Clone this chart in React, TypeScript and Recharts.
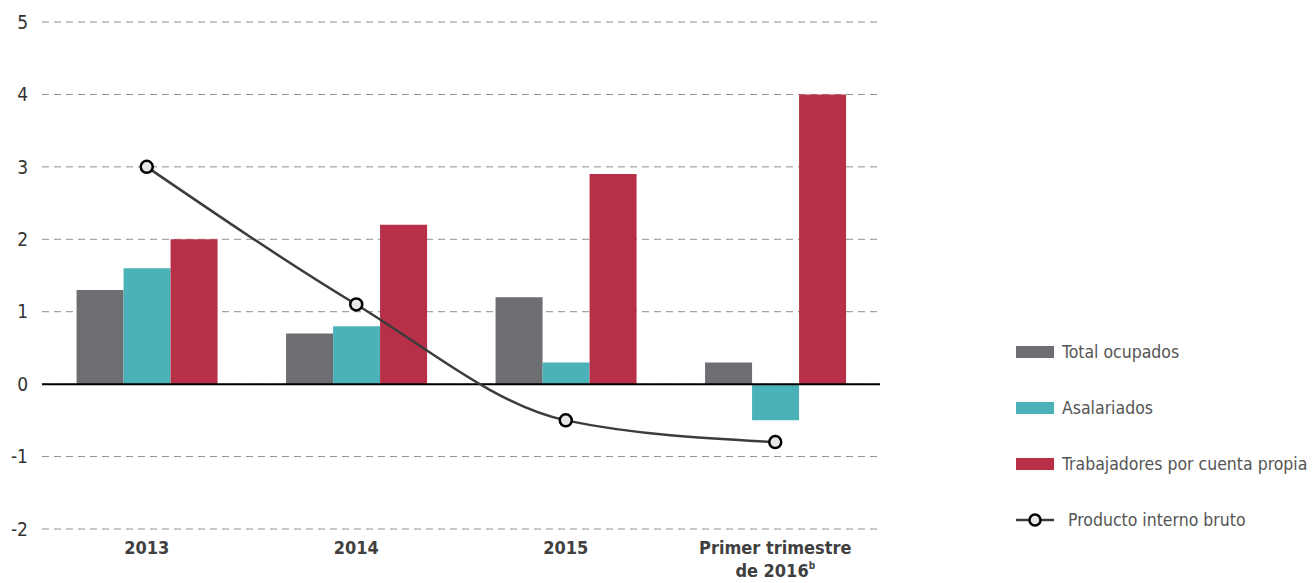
import * as React from 'react';
import { Bar, CartesianGrid, ComposedChart, Line, ReferenceLine, XAxis, YAxis } from "recharts"

const categories = ["2013", "2014", "2015", "Primer trimestre|de 2016"]
const totalOcupados = [1.3, 0.7, 1.2, 0.3]
const asalariados = [1.6, 0.8, 0.3, -0.5]
const cuentaPropia = [2.0, 2.2, 2.9, 4.0]
const pib = [3.0, 1.1, -0.5, -0.8]
const yTicks = [-2, -1, 0, 1, 2, 3, 4, 5]

const FONT = "'Liberation Sans Narrow', 'DejaVu Sans Condensed', 'Roboto', sans-serif"
const GRAY = "#6d6e72"
const TEAL = "#4bb2b9"
const RED = "#b73047"

const data = categories.map((name, i) => ({
  name,
  total: totalOcupados[i],
  asal: asalariados[i],
  propia: cuentaPropia[i],
  pib: pib[i],
}))

const legendItems = [
  { label: "Total ocupados", color: GRAY, kind: "bar" },
  { label: "Asalariados", color: TEAL, kind: "bar" },
  { label: "Trabajadores por cuenta propia", color: RED, kind: "bar" },
  { label: "Producto interno bruto", color: "#3c3c3c", kind: "line" },
]

function CategoryTick(props: any) {
  const { x, y, payload } = props
  const lines = String(payload.value).split("|")
  return (
    <text x={x} y={y} textAnchor="middle" fontFamily={FONT} fontWeight="bold" fontSize={18} fill="#404040">
      {lines.map((l, i) => (
        <tspan key={i} x={x} dy={i === 0 ? 17 : 23}>
          {l}
          {i === 1 && <tspan fontSize={10} dy={-8}>b</tspan>}
        </tspan>
      ))}
    </text>
  )
}

function Legend() {
  return (
    <div style={{ position: "absolute", left: 1016, top: 324, fontFamily: FONT, fontSize: 17.5, color: "#555", whiteSpace: "nowrap" }}>
      {legendItems.map((item) => (
        <div key={item.label} style={{ display: "flex", alignItems: "center", height: 56 }}>
          {item.kind === "bar" ? (
            <div style={{ width: 38, height: 12, background: item.color, marginRight: 8 }} />
          ) : (
            <svg width={38} height={16} style={{ marginRight: 14 }}>
              <line x1={0} y1={8} x2={38} y2={8} stroke={item.color} strokeWidth={2.5} />
              <circle cx={19} cy={8} r={5.5} fill="#e8e8ea" stroke="#000" strokeWidth={2.5} />
            </svg>
          )}
          <span>{item.label}</span>
        </div>
      ))}
    </div>
  )
}

export default function App() {
  return (
    <div style={{ position: "absolute", left: 0, top: 0, width: 1312, height: 583, background: "#fff" }}>
      <ComposedChart
        width={1312}
        height={583}
        data={data}
        margin={{ top: 22, right: 432, left: 0, bottom: 0 }}
        barGap={0}
        barCategoryGap="16.5%"
      >
        <CartesianGrid vertical={false} stroke="#8f8f8f" strokeDasharray="7 5" />
        <XAxis dataKey="name" height={54} axisLine={false} tickLine={false} tick={<CategoryTick />} interval={0} />
        <YAxis
          width={42}
          domain={[-2, 5]}
          ticks={yTicks}
          axisLine={false}
          tickLine={false}
          tickSize={0}
          tickMargin={14}
          tick={{ fontFamily: FONT, fontSize: 19, fill: "#333" }}
        />
        <Bar dataKey="total" fill={GRAY} isAnimationActive={false} />
        <Bar dataKey="asal" fill={TEAL} isAnimationActive={false} />
        <Bar dataKey="propia" fill={RED} isAnimationActive={false} />
        <ReferenceLine y={0} stroke="#000" strokeWidth={2} />
        <Line
          type="monotone"
          dataKey="pib"
          stroke="#3c3c3c"
          strokeWidth={2.5}
          dot={{ r: 6, fill: "#e8e8ea", stroke: "#000", strokeWidth: 2.5 }}
          isAnimationActive={false}
        />
      </ComposedChart>
      <Legend />
    </div>
  )
}
